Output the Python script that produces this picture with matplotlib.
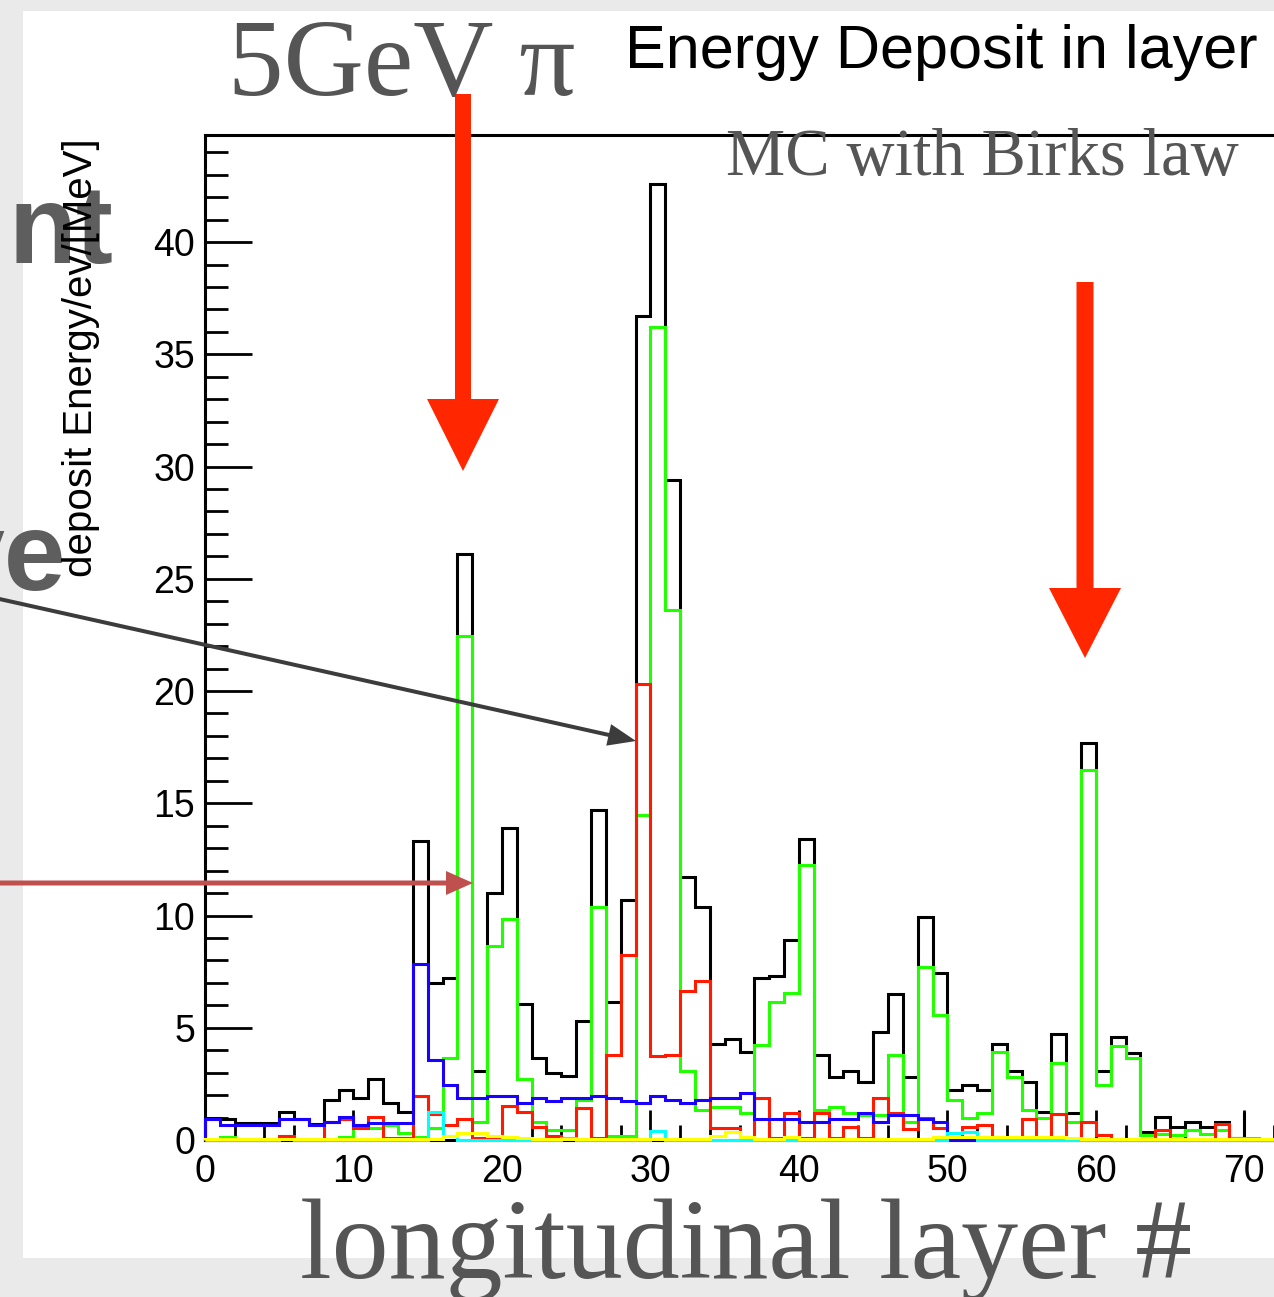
import numpy as np
import matplotlib
matplotlib.use('agg')
import matplotlib.pyplot as plt
from matplotlib.patches import Rectangle, FancyArrow
from matplotlib.ticker import MultipleLocator

# energy deposit per longitudinal layer, one bin per layer
total = [1.0, 0.92, 0.77, 0.77, 0.77, 1.26, 0.95, 0.7, 1.78, 2.23,
         1.86, 2.7, 1.63, 1.26, 13.3, 7.0, 7.2, 26.1, 3.07, 11.0,
         13.9, 6.04, 3.64, 3.0, 2.85, 5.3, 14.7, 6.15, 10.67, 36.7,
         42.6, 29.4, 11.7, 10.4, 4.28, 4.48, 3.9, 7.2, 7.3, 8.9,
         13.4, 3.79, 2.82, 3.07, 2.6, 4.82, 6.5, 2.82, 9.95, 7.45,
         2.23, 2.45, 2.23, 4.26, 3.07, 2.6, 1.25, 4.72, 1.2, 17.67,
         3.07, 4.6, 3.88, 0.35, 1.02, 0.6, 0.8, 0.6, 0.8, 0.1]
total_last = 1.26

green = [0.02, 0.12, 0.02, 0.02, 0.02, 0.05, 0.02, 0.02, 0.05, 0.12,
         0.55, 0.55, 0.67, 0.3, 0.12, 0.55, 3.65, 22.45, 0.8, 8.66,
         9.84, 2.7, 0.8, 0.45, 0.45, 1.78, 10.4, 0.2, 0.2, 14.5,
         36.2, 23.6, 3.07, 1.34, 1.48, 1.48, 1.2, 4.23, 6.16, 6.53,
         12.25, 1.33, 1.47, 1.2, 1.1, 1.1, 3.8, 0.8, 7.72, 5.57,
         1.8, 0.98, 1.2, 3.9, 2.8, 1.33, 0.98, 3.42, 0.8, 16.48,
         2.45, 4.2, 3.64, 0.22, 0.25, 0.22, 0.45, 0.25, 0.45, 0.1,
         0.1, 0.0]

red = [0, 0, 0, 0, 0, 0.2, 0, 0, 0.78, 0.95,
       0.55, 1.04, 0.1, 0.1, 1.97, 1.14, 0.67, 0.93, 0.1, 0.1,
       1.5, 1.26, 0.59, 0.2, 0.1, 1.42, 0.1, 3.8, 8.24, 20.3,
       3.76, 3.8, 6.65, 7.08, 0.55, 0.55, 0.15, 1.85, 0.1, 1.2,
       0.1, 1.22, 0.1, 0.6, 0.1, 1.85, 1.22, 0.5, 1.0, 0.55,
       0.1, 0.6, 0.67, 0.1, 0.1, 0.92, 0.05, 1.14, 0.05, 0.82,
       0.22, 0.05, 0.05, 0.05, 0.45, 0.05, 0.05, 0.05, 0.7, 0.05,
       0, 0]

blue = [0.95, 0.67, 0.67, 0.67, 0.67, 0.93, 0.93, 0.67, 0.78, 1.04,
        0.67, 0.77, 0.77, 0.77, 7.85, 3.56, 2.45, 1.87, 1.87, 1.94,
        1.94, 1.63, 1.87, 1.75, 1.87, 1.87, 1.98, 1.87, 1.75, 1.63,
        1.98, 1.8, 1.66, 1.78, 1.87, 1.87, 2.08, 0.93, 0.93, 0.93,
        0.78, 0.78, 0.93, 0.93, 1.2, 0.78, 1.1, 1.1, 0.93, 0.8,
        0, 0, 0, 0, 0, 0, 0, 0, 0, 0,
        0, 0, 0, 0, 0, 0, 0, 0, 0, 0,
        0, 0]

cyan = [0, 0, 0, 0, 0, 0.05, 0, 0, 0, 0,
        0, 0, 0, 0, 0.02, 1.26, 0.2, 0, 0, 0,
        0, 0, 0, 0, 0.1, 0, 0, 0, 0, 0,
        0.42, 0, 0, 0, 0, 0, 0, 0, 0, 0,
        0, 0, 0, 0, 0, 0, 0, 0, 0, 0,
        0.3, 0.35, 0, 0, 0, 0, 0, 0, 0, 0,
        0, 0, 0, 0, 0, 0, 0, 0, 0, 0,
        0, 0]

yellow = [0.03, 0.03, 0.03, 0.03, 0.03, 0.03, 0.03, 0.03, 0.03, 0.03,
          0.03, 0.03, 0.03, 0.03, 0.03, 0.03, 0.2, 0.33, 0.33, 0.2,
          0.15, 0.1, 0.05, 0.05, 0.05, 0.05, 0.05, 0.05, 0.05, 0.05,
          0.05, 0.05, 0.05, 0.05, 0.2, 0.35, 0.15, 0.05, 0.05, 0.15,
          0.05, 0.05, 0.05, 0.05, 0.05, 0.05, 0.05, 0.05, 0.05, 0.15,
          0.12, 0.12, 0.15, 0.12, 0.12, 0.12, 0.15, 0.15, 0.1, 0.05,
          0.05, 0.05, 0.05, 0.05, 0.05, 0.05, 0.05, 0.05, 0.05, 0.05,
          0.05, 0.05]

x_ticks = [0, 10, 20, 30, 40, 50, 60, 70]
y_ticks = [0, 5, 10, 15, 20, 25, 30, 35, 40]

W, H = 1274, 1297
plt.rcParams['font.family'] = ['Liberation Sans', 'DejaVu Sans']
SERIF = ['Liberation Serif', 'DejaVu Serif']
SLIDE_GREY = '#555555'

fig = plt.figure(figsize=(W / 100, H / 100), dpi=100, facecolor='#eaeaea')


def frac(px, py):
    return px / W, 1 - py / H


# white slide panel behind the canvas
bg = fig.add_axes([0, 0, 1, 1], zorder=0)
bg.set_xlim(0, W)
bg.set_ylim(H, 0)
bg.axis('off')
bg.add_patch(Rectangle((23, 11), W, 1247, facecolor='white', edgecolor='none'))

# histogram frame
x0, y0 = frac(205, 1140)
x1, y1 = frac(1274, 135)
ax = fig.add_axes([x0, y0, x1 - x0, y1 - y0], zorder=1)
ax.set_facecolor('white')

lw = 2.2
ax.stairs(total, np.arange(len(total) + 1), color='black', lw=lw,
          baseline=0, zorder=3, clip_on=False)
ax.vlines(len(total), 0, total_last, color='black', lw=lw, zorder=3)
for vals, col in [(green, '#22ff00'), (red, '#ff1a00'), (blue, '#1a00ff'),
                  (cyan, '#00ffff'), (yellow, '#ffff00')]:
    ax.stairs(vals, np.arange(len(vals) + 1), color=col, lw=lw,
              baseline=0, zorder=3, clip_on=False)

ax.set_xlim(0, 72)
ax.set_ylim(0, 44.77)
ax.set_xticks(x_ticks)
ax.set_yticks(y_ticks)
ax.xaxis.set_minor_locator(MultipleLocator(2))
ax.yaxis.set_minor_locator(MultipleLocator(1))
ax.spines['right'].set_visible(False)
for s in ['left', 'top', 'bottom']:
    ax.spines[s].set_linewidth(2.2)
ax.tick_params(which='both', direction='in', width=2, top=False, right=False,
               labelsize=27)
ax.tick_params(axis='y', which='major', length=34, pad=7)
ax.tick_params(axis='y', which='minor', length=16.5)
ax.tick_params(axis='x', which='major', length=21.6, pad=10)
ax.tick_params(axis='x', which='minor', length=10.8)

# slide annotations on top, in pixel coordinates
top = fig.add_axes([0, 0, 1, 1], zorder=2)
top.set_xlim(0, W)
top.set_ylim(H, 0)
top.axis('off')

top.text(113, 263, 'nt', ha='right', va='baseline', fontsize=80,
         fontweight='bold', color='#5e5e5e')
top.text(66, 590, 've', ha='right', va='baseline', fontsize=80,
         fontweight='bold', color='#5e5e5e')
top.text(81, 358, 'deposit Energy/ev/[MeV]', rotation=90, ha='center',
         va='center', fontsize=29, color='black')
top.text(625, 68, 'Energy Deposit in layer', ha='left', va='baseline',
         fontsize=44, color='black')
top.text(228, 95, '5GeV π', ha='left', va='baseline', fontsize=80,
         family=SERIF, color=SLIDE_GREY)
top.text(982, 175, 'MC with Birks law', ha='center', va='baseline',
         fontsize=48, family=SERIF, color=SLIDE_GREY)
top.text(746, 1278, 'longitudinal layer #', ha='center', va='baseline',
         fontsize=82, family=SERIF, color=SLIDE_GREY)

arrow_red = '#ff2600'
top.add_patch(FancyArrow(463, 94, 0, 377, width=16, head_width=72,
                         head_length=72, length_includes_head=True,
                         color=arrow_red, lw=0))
top.add_patch(FancyArrow(1085, 282, 0, 376, width=17, head_width=72,
                         head_length=70, length_includes_head=True,
                         color=arrow_red, lw=0))
top.add_patch(FancyArrow(-5, 598, 641, 143, width=4, head_width=22,
                         head_length=28, length_includes_head=True,
                         color='#3c3c3c', lw=0))
top.add_patch(FancyArrow(-5, 883, 478, 0, width=5, head_width=24,
                         head_length=27, length_includes_head=True,
                         color='#c0504d', lw=0))

fig.savefig('out.png', dpi=100, facecolor=fig.get_facecolor())
